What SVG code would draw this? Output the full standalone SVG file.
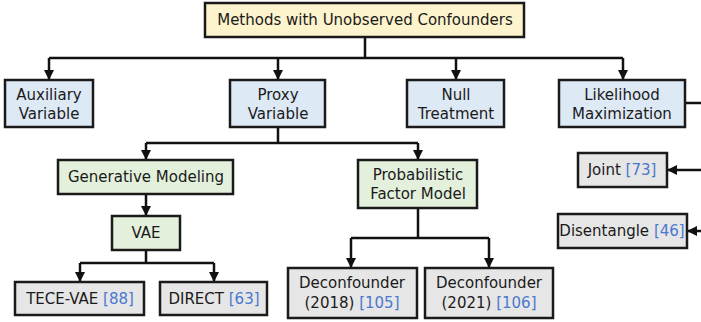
<svg xmlns="http://www.w3.org/2000/svg" width="701" height="322" viewBox="0 0 701 322">
<style>
.box{stroke:#1a1a1a;stroke-width:2.5}
.y{fill:#fdf3cc}.b{fill:#dee9f6}.g{fill:#e3f0dc}.k{fill:#e6e6e6}
text{font-family:"DejaVu Sans","Noto Sans",sans-serif;font-size:15px;fill:#1a1a1a;text-anchor:middle}
.c{fill:#4a78cf}
.ln{fill:none;stroke:#111;stroke-width:2.5}
</style>
<defs>
<marker id="ah" viewBox="0 0 10 10" refX="9" refY="5" markerWidth="4" markerHeight="4" orient="auto"><path d="M0,0L10,5L0,10z" fill="#111"/></marker>
</defs>
<g id="connectors">
<path class="ln" d="M365,37V58M49,58H623"/>
<path class="ln" d="M49,58V79" marker-end="url(#ah)"/>
<path class="ln" d="M278,58V79" marker-end="url(#ah)"/>
<path class="ln" d="M456,58V79" marker-end="url(#ah)"/>
<path class="ln" d="M623,58V79" marker-end="url(#ah)"/>
<path class="ln" d="M685,103H704V231"/>
<path class="ln" d="M704,170H668" marker-end="url(#ah)"/>
<path class="ln" d="M704,231H688" marker-end="url(#ah)"/>
<path class="ln" d="M278,127V143M146,143H418"/>
<path class="ln" d="M146,143V159" marker-end="url(#ah)"/>
<path class="ln" d="M418,143V159" marker-end="url(#ah)"/>
<path class="ln" d="M146,194V215" marker-end="url(#ah)"/>
<path class="ln" d="M146,250V263M80,263H214"/>
<path class="ln" d="M80,263V281" marker-end="url(#ah)"/>
<path class="ln" d="M214,263V281" marker-end="url(#ah)"/>
<path class="ln" d="M418,208V238M351,238H489"/>
<path class="ln" d="M351,238V267" marker-end="url(#ah)"/>
<path class="ln" d="M489,238V267" marker-end="url(#ah)"/>
</g>
<g id="root"><rect class="box y" x="205" y="3" width="319" height="34"/><text x="365" y="25">Methods with Unobserved Confounders</text></g>
<g id="auxiliary"><rect class="box b" x="5" y="80" width="88" height="47"/><text x="49" y="100">Auxiliary</text><text x="49" y="119">Variable</text></g>
<g id="proxy"><rect class="box b" x="230" y="80" width="95" height="47"/><text x="278" y="100">Proxy</text><text x="278" y="119">Variable</text></g>
<g id="null"><rect class="box b" x="407" y="80" width="97" height="47"/><text x="456" y="100">Null</text><text x="456" y="119">Treatment</text></g>
<g id="likelihood"><rect class="box b" x="559" y="80" width="126" height="47"/><text x="622" y="100">Likelihood</text><text x="622" y="119">Maximization</text></g>
<g id="joint"><rect class="box k" x="578" y="153" width="89" height="34"/><text x="622" y="175">Joint <tspan class="c">[73]</tspan></text></g>
<g id="disentangle"><rect class="box k" x="558" y="214" width="129" height="34"/><text x="622" y="236">Disentangle <tspan class="c">[46]</tspan></text></g>
<g id="generative"><rect class="box g" x="58" y="160" width="175" height="34"/><text x="146" y="182">Generative Modeling</text></g>
<g id="probabilistic"><rect class="box g" x="358" y="160" width="119" height="48"/><text x="418" y="180">Probabilistic</text><text x="418" y="199">Factor Model</text></g>
<g id="vae"><rect class="box g" x="112" y="216" width="68" height="34"/><text x="146" y="238">VAE</text></g>
<g id="tecevae"><rect class="box k" x="15" y="282" width="129" height="33"/><text x="80" y="304">TECE-VAE <tspan class="c">[88]</tspan></text></g>
<g id="direct"><rect class="box k" x="160" y="282" width="107" height="33"/><text x="214" y="304">DIRECT <tspan class="c">[63]</tspan></text></g>
<g id="deconf2018"><rect class="box k" x="288" y="268" width="129" height="50"/><text x="352" y="288">Deconfounder</text><text x="352" y="308">(2018) <tspan class="c">[105]</tspan></text></g>
<g id="deconf2021"><rect class="box k" x="425" y="268" width="128" height="50"/><text x="489" y="288">Deconfounder</text><text x="489" y="308">(2021) <tspan class="c">[106]</tspan></text></g>
</svg>
